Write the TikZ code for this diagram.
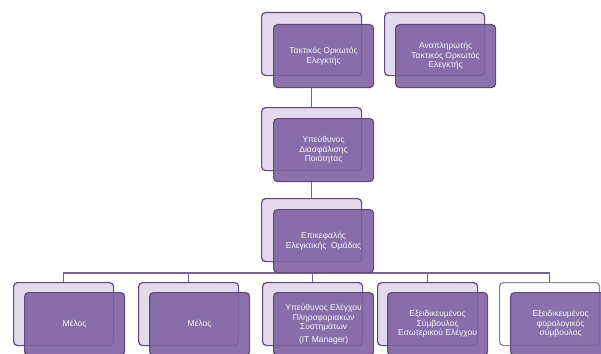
\documentclass[tikz,border=0pt]{standalone}
\usepackage{fontspec}
\setmainfont{Liberation Sans}
\definecolor{frontfill}{HTML}{7F62A3}
\definecolor{boxline}{HTML}{5F497A}
\definecolor{backfill}{HTML}{E2DAEC}
\definecolor{connline}{HTML}{766689}
\definecolor{grayline}{HTML}{8A8390}
\tikzset{
  backbox/.style={draw=boxline, line width=1.2pt, fill=backfill, rounded corners=4pt,
    minimum width=100pt, minimum height=63pt, anchor=north west, inner sep=0pt},
  whitebox/.style={backbox, draw=grayline, fill=white},
  frontbox/.style={draw=boxline, line width=1.2pt, fill=frontfill, fill opacity=0.9,
    text opacity=1, rounded corners=4pt, minimum width=100pt, minimum height=63pt,
    anchor=north west, inner sep=1pt, text=white!94!frontfill, align=center,
    font=\fontsize{8.5}{9.5}\selectfont},
  conn/.style={draw=connline, line width=1.1pt}
}
\begin{document}
\begin{tikzpicture}[x=1pt,y=-1pt]
\useasboundingbox (0,0) rectangle (601,353);
\clip (0,0) rectangle (601,353);
% back boxes
\node[backbox] (t1b) at (261,12) {};
\node[backbox] (t2b) at (384,12) {};
\node[backbox] (m1b) at (261,107) {};
\node[backbox] (m2b) at (261,198) {};
\node[backbox] (b1b) at (13,282) {};
\node[backbox] (b2b) at (138,282) {};
\node[backbox] (b3b) at (262,282) {};
\node[backbox] (b4b) at (377,282) {};
\node[whitebox] (b5b) at (499,282) {};
\coordinate (bus) at (0,273);
% connectors
\draw[conn] (m2b.south |- 0,272) -- (m2b.south |- bus);
\draw[conn] (b1b.north) -- (b1b.north |- bus) -- (b5b.north |- bus) -- (b5b.north);
\draw[conn] (b2b.north |- bus) -- (b2b.north);
\draw[conn] (b3b.north |- bus) -- (b3b.north);
\draw[conn] (b4b.north |- bus) -- (b4b.north);
% front boxes
\node[frontbox] (t1f) at (273,24) {Τακτικός Ορκωτός\\Ελεγκτής};
\node[frontbox] (t2f) at (395,24) {Αναπληρωτής\\Τακτικός Ορκωτός\\Ελεγκτής};
\node[frontbox] (m1f) at (273,118) {Υπεύθυνος\\Διασφάλισης\\Ποιότητας};
\node[frontbox] (m2f) at (273,209) {Επικεφαλής\\Ελεγκτικής\ \ Ομάδας};
\node[frontbox] (b1f) at (24,292) {Μέλος};
\node[frontbox] (b2f) at (149,292) {Μέλος};
\node[frontbox] (b3f) at (273,292) {Υπεύθυνος Ελέγχου\\Πληροφοριακών\\Συστημάτων\\[3pt](IT Manager)};
\node[frontbox] (b4f) at (387,292) {Εξειδικευμένος\\Σύμβουλος\\Εσωτερικού Ελέγχου};
\node[frontbox] (b5f) at (510,292) {Εξειδικευμένος\\φορολογικός\\σύμβουλος};
\draw[conn] (t1f.south -| t1b.south) -- (m1b.north);
\draw[conn] (m1f.south -| m1b.south) -- (m2b.north);
\end{tikzpicture}
\end{document}
